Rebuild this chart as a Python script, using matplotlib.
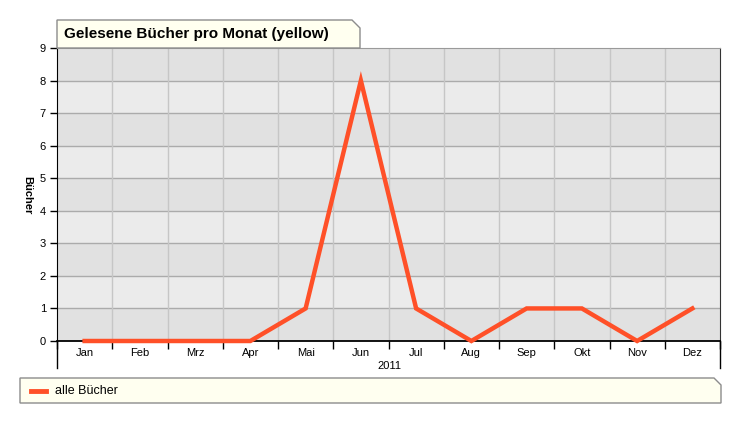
import matplotlib
matplotlib.use("Agg")
import matplotlib.pyplot as plt
from matplotlib.patches import Polygon
from matplotlib.lines import Line2D

months = ["Jan", "Feb", "Mrz", "Apr", "Mai", "Jun", "Jul", "Aug", "Sep", "Okt", "Nov", "Dez"]
books = [0, 0, 0, 0, 1, 8, 1, 0, 1, 1, 0, 1]
title = "Gelesene Bücher pro Monat (yellow)"
series_name = "alle Bücher"
year_label = "2011"
y_label = "Bücher"

plt.rcParams['font.family'] = ['Liberation Sans', 'DejaVu Sans']

W, H = 741, 423
fig = plt.figure(figsize=(W / 100, H / 100), dpi=100)
fig.patch.set_facecolor('white')

def fx(x):
    return x / W

def fy(y):
    return 1 - y / H

L, R, T, B = 57, 720, 48, 341
ax = fig.add_axes([fx(L), fy(B), fx(R - L), (B - T) / H])
ax.set_facecolor('#ebebeb')
ax.set_xlim(-0.5, len(months) - 0.5)
ax.set_ylim(0, 9)

# alternating bands
for i in range(9):
    ax.axhspan(i, i + 1, color='#e1e1e1' if i % 2 == 0 else '#ebebeb', zorder=0, lw=0)
for i in range(1, 9):
    ax.axhline(i, color='#ababab', lw=1, zorder=1)
for k in range(1, len(months)):
    ax.axvline(k - 0.5, color='#c6c6c6', lw=1, zorder=1)

ax.plot(range(len(months)), books, color='#ff5028', lw=3.2, zorder=3,
        solid_joinstyle='miter', clip_on=False)

ax.spines['top'].set_color('#9a9a9a')
ax.spines['right'].set_color('#333333')
ax.spines['left'].set_color('black')
ax.spines['bottom'].set_color('black')
ax.spines['bottom'].set_linewidth(1.3)

ax.set_yticks(range(10))
ax.tick_params(axis='y', direction='out', length=5, width=1, labelsize=8, pad=3, colors='black')
ax.set_xticks([k - 0.5 for k in range(len(months) + 1)])
ax.set_xticklabels([])
ax.tick_params(axis='x', direction='out', length=6, width=1, colors='black')
ax.set_xticks(range(len(months)), minor=True)
ax.set_xticklabels(months, minor=True, fontsize=8)
ax.tick_params(axis='x', which='minor', length=0, pad=5)

# extended side lines
for xa in (0, 1):
    fig.add_artist(Line2D([fx(L if xa == 0 else R)] * 2, [fy(B), fy(368)], color='black', lw=1))

fig.text(fx(389), fy(366), year_label, ha='center', va='center', fontsize=8)
fig.text(fx(27), fy(195), y_label, ha='center', va='center', rotation=270,
         fontsize=8, fontweight='bold')

# title box
tb = [(57, 20), (352, 20), (360, 28), (360, 48), (57, 48)]
fig.add_artist(Polygon([(fx(x), fy(y)) for x, y in tb], closed=True,
                       facecolor='#fffff0', edgecolor='#8c8c8c', lw=1, zorder=5))
fig.text(fx(64), fy(34), title, ha='left', va='center', fontsize=11,
         fontweight='bold', zorder=6)

# legend box
lb = [(20, 378), (714, 378), (721, 385), (721, 403), (20, 403)]
fig.add_artist(Polygon([(fx(x), fy(y)) for x, y in lb], closed=True,
                       facecolor='#fffff0', edgecolor='#8c8c8c', lw=1, zorder=5))
fig.add_artist(Line2D([fx(31), fx(46)], [fy(390.5)] * 2, color='#ff5028', lw=3.5, zorder=6))
fig.text(fx(55), fy(390.5), series_name, ha='left', va='center', fontsize=9, zorder=6)

fig.savefig('out.png', dpi=100)
